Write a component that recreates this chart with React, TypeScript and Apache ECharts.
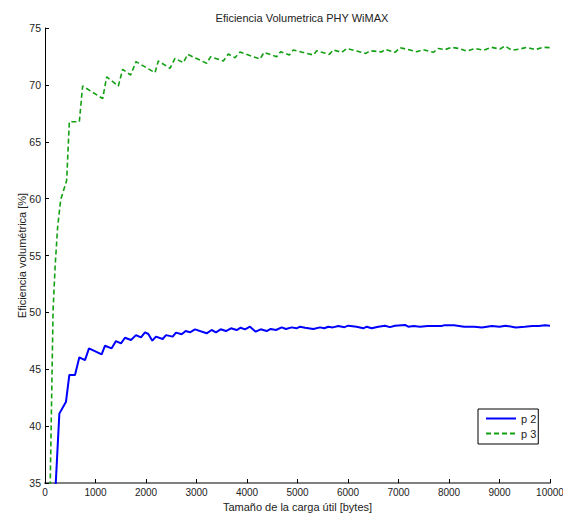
import React, { useEffect, useRef } from "react";
import * as echarts from "echarts";

const titleText = "Eficiencia Volumetrica PHY WiMAX";
const xAxisName = "Tamaño de la carga útil [bytes]";
const yAxisName = "Eficiencia volumétrica [%]";
const seriesNames = ["p 2", "p 3"];

// p 2 (blue, solid): [payload bytes, efficiency %]
const p2Data: [number, number][] = [
  [190, 33], [284, 41.1], [416, 42.15], [482, 44.5], [594, 44.5], [680, 46.05],
  [792, 45.8], [871, 46.84], [1122, 46.31], [1188, 47.07], [1320, 46.84],
  [1406, 47.48], [1505, 47.28], [1584, 47.77], [1703, 47.57], [1802, 48.0],
  [1901, 47.8], [1980, 48.25], [2046, 48.1], [2125, 47.51], [2198, 47.87],
  [2330, 47.66], [2396, 48.0], [2528, 47.87], [2594, 48.22], [2706, 48.07],
  [2786, 48.36], [2871, 48.25], [2970, 48.51], [3201, 48.16], [3300, 48.45],
  [3386, 48.25], [3479, 48.51], [3584, 48.36], [3683, 48.6], [3795, 48.45],
  [3875, 48.65], [3960, 48.51], [4059, 48.74], [4172, 48.3], [4271, 48.51],
  [4390, 48.36], [4469, 48.54], [4574, 48.45], [4687, 48.68], [4772, 48.54],
  [4885, 48.68], [4983, 48.6], [5050, 48.74], [5150, 48.65], [5313, 48.54],
  [5446, 48.68], [5530, 48.6], [5610, 48.74], [5700, 48.68], [5808, 48.8],
  [5930, 48.7], [6006, 48.83], [6170, 48.74], [6303, 48.6], [6370, 48.74],
  [6469, 48.6], [6600, 48.74], [6733, 48.83], [6830, 48.7], [6931, 48.83],
  [7129, 48.9], [7194, 48.74], [7300, 48.8], [7426, 48.74], [7580, 48.8],
  [7720, 48.8], [7850, 48.8], [7900, 48.86], [8100, 48.86], [8300, 48.74],
  [8500, 48.74], [8650, 48.68], [8850, 48.8], [9000, 48.74], [9120, 48.83],
  [9320, 48.68], [9500, 48.74], [9650, 48.8], [9780, 48.8], [9900, 48.86],
  [10000, 48.83],
];

// p 3 (green, dashed)
const p3Data: [number, number][] = [
  [100, 34], [160, 50.2], [200, 54], [250, 57.5], [311, 59.9], [429, 61.6],
  [482, 66.76], [680, 66.76], [745, 69.9], [1142, 68.8], [1221, 70.7],
  [1452, 69.9], [1538, 71.37], [1696, 70.87], [1802, 72.04], [2178, 71.07],
  [2244, 72.1], [2475, 71.45], [2574, 72.33], [2739, 71.95], [2825, 72.68],
  [3201, 71.9], [3281, 72.48], [3531, 72.1], [3630, 72.71], [3762, 72.39],
  [3861, 72.89], [4257, 72.27], [4337, 72.86], [4587, 72.48], [4667, 72.92],
  [4838, 72.63], [4917, 73.07], [5313, 72.63], [5380, 73.0], [5630, 72.68],
  [5709, 73.07], [5875, 72.86], [5974, 73.2], [6356, 72.77], [6436, 73.0],
  [6667, 72.9], [6733, 73.12], [6931, 72.86], [7030, 73.27], [7360, 72.92],
  [7491, 73.1], [7689, 72.86], [7788, 73.2], [7920, 73.1], [8053, 73.3],
  [8200, 73.2], [8350, 72.97], [8515, 73.2], [8680, 73.05], [8845, 73.3],
  [9010, 73.15], [9109, 73.42], [9242, 73.05], [9400, 73.15], [9539, 73.3],
  [9703, 73.1], [9868, 73.3], [10000, 73.27],
];

const xTicks = { min: 0, max: 10000, interval: 1000 };
const yTicks = { min: 35, max: 75, interval: 5 };

const FONT = "'Liberation Sans', Arial, sans-serif";

export default function App() {
  const ref = useRef<HTMLDivElement>(null);
  useEffect(() => {
    if (!ref.current) return;
    const chart = echarts.init(ref.current, undefined, { renderer: "svg" });
    chart.setOption({
      animation: false,
      backgroundColor: "#ffffff",
      textStyle: { fontFamily: FONT },
      title: {
        text: titleText,
        left: 297,
        textAlign: "center",
        top: 7,
        textStyle: { fontSize: 11, fontWeight: "normal", color: "#222", fontFamily: FONT },
      },
      grid: { left: 45, right: 13, top: 28, bottom: 33, containLabel: false, outerBoundsMode: "none" },
      legend: {
        orient: "vertical",
        left: 478,
        top: 409,
        padding: [4, 2, 5, 7],
        itemWidth: 30,
        itemHeight: 12,
        itemGap: 4,
        borderColor: "#000",
        borderWidth: 1,
        backgroundColor: "#fff",
        itemStyle: { opacity: 0 },
        textStyle: { fontSize: 11, color: "#222", fontFamily: FONT },
        data: seriesNames,
      },
      xAxis: {
        type: "value",
        min: xTicks.min,
        max: xTicks.max,
        interval: xTicks.interval,
        name: xAxisName,
        nameLocation: "middle",
        nameGap: 18,
        nameMoveOverlap: false,
        nameTextStyle: { fontSize: 11, color: "#222", fontFamily: FONT },
        axisLine: { lineStyle: { color: "#808080", width: 2 } },
        axisTick: { inside: true, length: 4, lineStyle: { color: "#000" } },
        axisLabel: {
          fontSize: 10,
          color: "#222",
          margin: 4,
          fontFamily: FONT,
          formatter: (v: number) => String(v),
        },
        splitLine: { show: false },
      },
      yAxis: {
        type: "value",
        min: yTicks.min,
        max: yTicks.max,
        interval: yTicks.interval,
        name: yAxisName,
        nameLocation: "middle",
        nameGap: 18,
        nameMoveOverlap: false,
        nameTextStyle: { fontSize: 11, color: "#222", fontFamily: FONT },
        axisLine: { show: true, lineStyle: { color: "#000", width: 1 } },
        axisTick: { show: true, inside: true, length: 4, lineStyle: { color: "#000" } },
        axisLabel: { fontSize: 10.5, color: "#222", margin: 4, fontFamily: FONT },
        splitLine: { show: false },
      },
      series: [
        {
          name: seriesNames[0],
          type: "line",
          data: p2Data,
          symbol: "none",
          clip: true,
          lineStyle: { color: "#0000ff", width: 2 },
          itemStyle: { color: "#0000ff" },
        },
        {
          name: seriesNames[1],
          type: "line",
          data: p3Data,
          symbol: "none",
          clip: true,
          lineStyle: { color: "#12a012", width: 1.6, type: [5, 3] },
          itemStyle: { color: "#12a012" },
        },
      ],
    });
    return () => chart.dispose();
  }, []);
  return <div ref={ref} style={{ width: 563, height: 516, position: "absolute", left: 0, top: 0 }} />;
}
